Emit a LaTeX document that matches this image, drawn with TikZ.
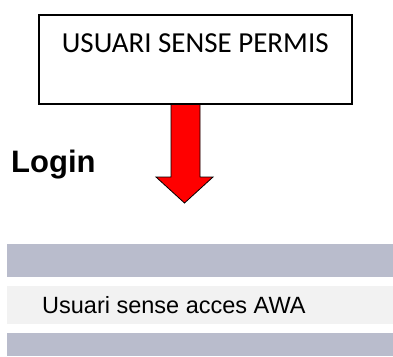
\documentclass[tikz,border=0pt]{standalone}
\usepackage{fontspec}
\usepackage{xcolor}
\usetikzlibrary{positioning}
\newfontfamily\boxfont{Carlito}
\newfontfamily\pagefont{Liberation Sans}
\definecolor{barblue}{RGB}{185,188,204}
\definecolor{barlight}{RGB}{242,242,242}
\tikzset{
	x=1pt, y=1pt,
	every node/.style={inner sep=0pt},
	notebox/.style={draw, line width=1.5pt, minimum width=313pt, text height=38pt, text depth=51pt, font=\boxfont\fontsize{29}{35}\selectfont},
	bar/.style={draw=none},
	barlabel/.style={font=\pagefont\fontsize{23.5}{28}\selectfont, anchor=base west}}

\begin{document}
\begin{tikzpicture}
		\useasboundingbox (0,0) rectangle (393,-356);
		
		\node[notebox, anchor=north west] (nopermis) at (38,-14) {USUARI SENSE PERMIS};
		
		\node[anchor=base west, font=\pagefont\bfseries\fontsize{31}{37}\selectfont] (login) at (11,-172) {Login};
		
		% rows of the login page
		\fill[barblue] (7,-244) rectangle (393,-277);
		\fill[barlight] (7,-286) rectangle (393,-324);
		\fill[barblue] (7,-333) rectangle (393,-356);
		\node[barlabel] (noaccess) at (42,-313) {Usuari sense acces AWA};
		
		% red arrow down from the box
		\coordinate (tip) at (184.5,-203);
		\filldraw[fill=red, draw=black, line width=0.8pt, line join=miter]
		(nopermis.south west -| 171,0) -- (nopermis.south west -| 200,0) -- (200,-177) -- (213,-177)
		-- (tip) -- (156,-177) -- (171,-177) -- cycle;
	\end{tikzpicture}
\end{document}
